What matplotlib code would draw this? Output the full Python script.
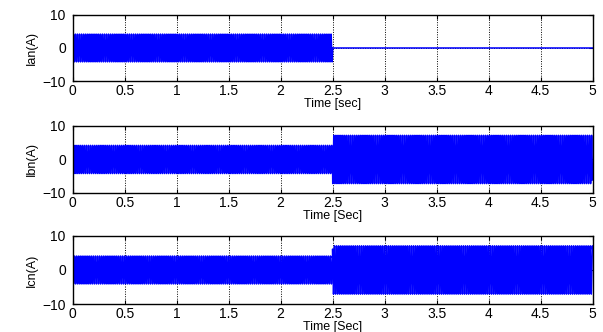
import numpy as np
from matplotlib import pyplot as plt

# signal description
FREQ = 50.0            # Hz
T_END = 5.0
T_SWITCH = 2.5
FS = 10000.0           # sample rate used for the trace

labels = ["Ian(A)", "Ibn(A)", "Icn(A)"]
xlabels = ["Time [sec]", "Time [Sec]", "Time [Sec]"]
amp_before = [4.2, 4.2, 4.1]
amp_after = [0.0, 7.2, 7.1]
phase_deg = [0.0, -120.0, 120.0]

xticks = [0, 0.5, 1, 1.5, 2, 2.5, 3, 3.5, 4, 4.5, 5]
xticklabels = ["0", "0.5", "1", "1.5", "2", "2.5", "3", "3.5", "4", "4.5", "5"]
yticks = [-10, 0, 10]

plt.rcParams["font.family"] = ["Liberation Sans", "DejaVu Sans"]
plt.rcParams["font.size"] = 9

fig = plt.figure(figsize=(6.03, 3.32), dpi=100)
boxes = [[0.1206, 0.756, 0.862, 0.199],
         [0.1206, 0.4187, 0.862, 0.202],
         [0.1206, 0.0843, 0.862, 0.205]]

t = np.arange(0, T_END, 1.0 / FS)
for i in range(3):
    ax = fig.add_axes(boxes[i])
    amp = np.where(t < T_SWITCH, amp_before[i], amp_after[i])
    y = amp * np.sin(2 * np.pi * FREQ * t + np.deg2rad(phase_deg[i]))
    ax.plot(t, y, color="#0000ff", lw=1.1)
    ax.set_xlim(0, 5)
    ax.set_ylim(-10, 10)
    ax.set_xticks(xticks)
    ax.set_xticklabels(xticklabels)
    ax.set_yticks(yticks)
    ax.grid(True, color="black", linestyle=(0, (1, 1.5)), linewidth=0.7)
    ax.tick_params(direction="in", top=True, right=True, length=3,
                   labelsize=10)
    ax.tick_params(axis="x", pad=2)
    ax.tick_params(axis="y", pad=5)
    for s in ax.spines.values():
        s.set_linewidth(1.0)
    ax.set_ylabel(labels[i], labelpad=3)
    ax.set_xlabel(xlabels[i], labelpad=0)

plt.savefig("out.png", dpi=100)
plt.close()
